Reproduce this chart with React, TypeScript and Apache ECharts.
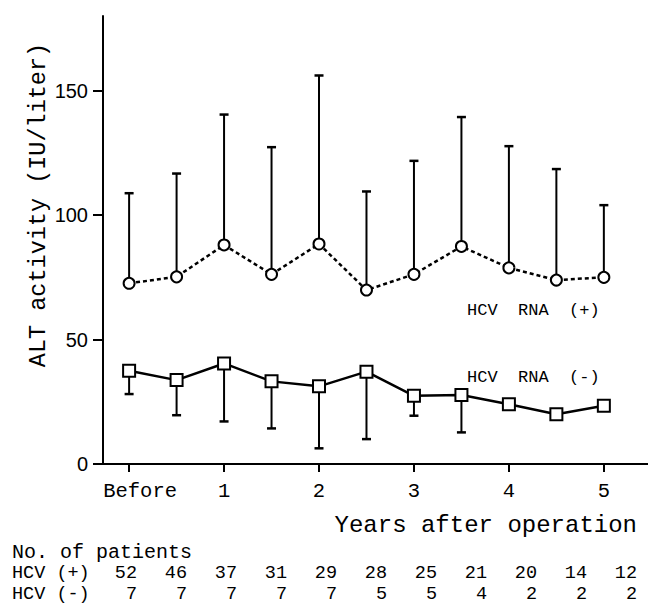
import React, { useEffect, useRef } from "react";
import * as echarts from "echarts";

// ---- data ----
const xTickValues = [0, 2, 4, 6, 8, 10];
const xTickLabels = ["Before", "1", "2", "3", "4", "5"];
const yTickValues = [0, 50, 100, 150];

const pointIndex = [0, 1, 2, 3, 4, 5, 6, 7, 8, 9, 10];
const posMean = [72.6, 75.2, 88, 76.2, 88.4, 69.9, 76.2, 87.4, 78.8, 73.9, 75];
const posUpper = [108.8, 116.7, 140.4, 127.3, 156.1, 109.5, 121.8, 139.4, 127.7, 118.5, 104];
const negMean = [37.5, 33.7, 40.4, 33.2, 31.2, 37.1, 27.4, 27.7, 24, 20, 23.4];
const negLower = [28.1, 19.6, 17.1, 14.3, 6.3, 10, 19.4, 12.7, null, null, null];

const patientsPos = [52, 46, 37, 31, 29, 28, 25, 21, 20, 14, 12];
const patientsNeg = [7, 7, 7, 7, 7, 5, 5, 4, 2, 2, 2];
const tableLabels = ["HCV (+)", "HCV (-)"];

const NB = "\u00A0";
const MONO = "Liberation Mono";
const SANS = "Liberation Sans";

export default function App() {
  const ref = useRef<HTMLDivElement>(null);
  useEffect(() => {
    if (!ref.current) return;
    const chart = echarts.init(ref.current, null, { renderer: "svg" });

    const errRender = (params: any, api: any) => {
      const x = api.value(0);
      const y0 = api.value(1);
      const y1 = api.value(2);
      const p0 = api.coord([x, y0]);
      const p1 = api.coord([x, y1]);
      const half = 4.5;
      return {
        type: "group",
        children: [
          {
            type: "line",
            shape: { x1: p0[0], y1: p0[1], x2: p1[0], y2: p1[1] },
            style: { stroke: "#000", lineWidth: 2 },
          },
          {
            type: "line",
            shape: { x1: p1[0] - half, y1: p1[1], x2: p1[0] + half, y2: p1[1] },
            style: { stroke: "#000", lineWidth: 2.5 },
          },
        ],
      };
    };

    const posErr = pointIndex.map((i) => [i, posMean[i], posUpper[i]]);
    const negErr = pointIndex
      .filter((i) => negLower[i] != null)
      .map((i) => [i, negMean[i], negLower[i]]);

    // patient table layout
    const tableFont = 18.5;
    const rowY = [573, 594];
    const colRight0 = 137;
    const colStep = 50;
    const tableTexts: any[] = [];
    tableTexts.push({
      type: "text",
      x: 12,
      y: 552,
      style: {
        text: "No." + NB + "of" + NB + "patients",
        fontFamily: MONO,
        fontSize: 20,
        fill: "#000",
        align: "left",
        verticalAlign: "middle",
      },
    });
    [patientsPos, patientsNeg].forEach((arr, r) => {
      tableTexts.push({
        type: "text",
        x: 12,
        y: rowY[r],
        style: {
          text: tableLabels[r].replace(" ", NB),
          fontFamily: MONO,
          fontSize: tableFont,
          fill: "#000",
          align: "left",
          verticalAlign: "middle",
        },
      });
      arr.forEach((n, i) => {
        tableTexts.push({
          type: "text",
          x: colRight0 + colStep * i,
          y: rowY[r],
          style: {
            text: String(n),
            fontFamily: MONO,
            fontSize: tableFont,
            fill: "#000",
            align: "right",
            verticalAlign: "middle",
          },
        });
      });
    });

    chart.setOption({
      animation: false,
      backgroundColor: "#fff",
      grid: { left: 103, top: 16, right: 0, bottom: 140, containLabel: false },
      xAxis: {
        type: "value",
        min: -0.55,
        max: 10.93,
        splitLine: { show: false },
        axisLine: { onZero: false, lineStyle: { color: "#000", width: 2 } },
        axisTick: {
          customValues: xTickValues,
          inside: false,
          length: 8,
          lineStyle: { color: "#000", width: 2 },
        },
        axisLabel: {
          customValues: xTickValues,
          margin: 17,
          color: "#000",
          fontFamily: MONO,
          fontSize: 20.5,
          formatter: (v: number) => {
            const idx = xTickValues.indexOf(Math.round(v));
            const t = idx >= 0 ? xTickLabels[idx] : "";
            return idx === 0 ? "{b|" + t + "}" : t;
          },
          rich: {
            b: {
              fontFamily: MONO,
              fontSize: 20.5,
              color: "#000",
              padding: [0, 0, 0, 22],
            },
          },
        },
      },
      yAxis: {
        type: "value",
        min: 0,
        max: 180,
        splitLine: { show: false },
        axisLine: { onZero: false, lineStyle: { color: "#000", width: 2 } },
        axisTick: {
          customValues: yTickValues,
          length: 10,
          lineStyle: { color: "#000", width: 2 },
        },
        axisLabel: {
          customValues: yTickValues,
          margin: 15,
          color: "#000",
          fontFamily: SANS,
          fontSize: 20,
        },
      },
      graphic: [
        {
          type: "text",
          x: 38,
          y: 205,
          rotation: Math.PI / 2,
          style: {
            text: "ALT activity (IU/liter)",
            fontFamily: MONO,
            fontSize: 23.5,
            fill: "#000",
            align: "center",
            verticalAlign: "middle",
          },
        },
        {
          type: "text",
          x: 637,
          y: 525,
          style: {
            text: "Years after operation",
            fontFamily: MONO,
            fontSize: 24,
            fill: "#000",
            align: "right",
            verticalAlign: "middle",
          },
        },
        {
          type: "text",
          x: 467,
          y: 310,
          style: {
            text: "HCV" + NB + NB + "RNA" + NB + NB + "(+)",
            fontFamily: MONO,
            fontSize: 17,
            fill: "#000",
            align: "left",
            verticalAlign: "middle",
          },
        },
        {
          type: "text",
          x: 467,
          y: 377,
          style: {
            text: "HCV" + NB + NB + "RNA" + NB + NB + "(-)",
            fontFamily: MONO,
            fontSize: 17,
            fill: "#000",
            align: "left",
            verticalAlign: "middle",
          },
        },
        ...tableTexts,
      ],
      series: [
        {
          type: "custom",
          name: "posErr",
          renderItem: errRender,
          data: posErr,
          encode: { x: 0, y: [1, 2] },
          z: 1,
          silent: true,
        },
        {
          type: "custom",
          name: "negErr",
          renderItem: errRender,
          data: negErr,
          encode: { x: 0, y: [1, 2] },
          z: 1,
          silent: true,
        },
        {
          type: "line",
          name: "HCV RNA (+)",
          data: pointIndex.map((i) => [i, posMean[i]]),
          symbol: "circle",
          symbolSize: 11,
          lineStyle: { color: "#000", width: 2.5, type: [4, 3] },
          itemStyle: { color: "#fff", borderColor: "#000", borderWidth: 2 },
          z: 3,
        },
        {
          type: "line",
          name: "HCV RNA (-)",
          data: pointIndex.map((i) => [i, negMean[i]]),
          symbol: "rect",
          symbolSize: 12,
          lineStyle: { color: "#000", width: 2.5 },
          itemStyle: { color: "#fff", borderColor: "#000", borderWidth: 2 },
          z: 3,
        },
      ],
    });
    return () => chart.dispose();
  }, []);
  return (
    <div
      ref={ref}
      style={{ position: "fixed", left: 0, top: 0, width: 648, height: 604, background: "#fff" }}
    />
  );
}
